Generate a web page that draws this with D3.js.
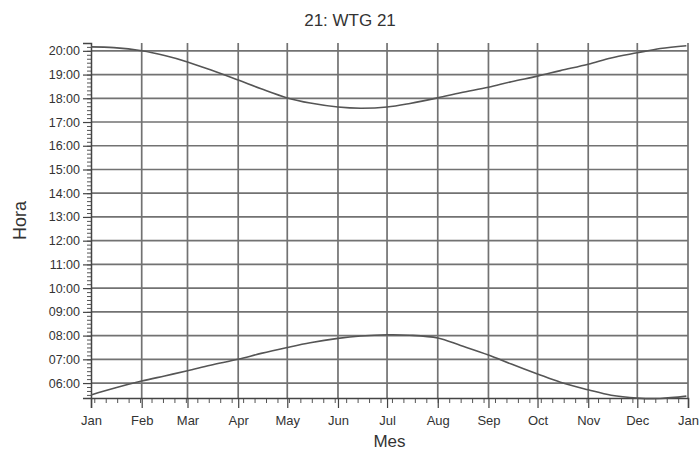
<!DOCTYPE html>
<html>
<head>
<meta charset="utf-8">
<script src="https://cdn.jsdelivr.net/npm/d3@7/dist/d3.min.js"></script>
<style>
  html, body { margin: 0; padding: 0; background: #fff; }
  svg { display: block; font-family: "Liberation Sans", Arial, sans-serif; }
</style>
</head>
<body>
<svg id="chart" width="700" height="452"></svg>
<script>
// ---- data ----
const title = "21: WTG 21";
const xLabel = "Mes";
const yLabel = "Hora";
const dates = ["2021-01-01","2021-01-15","2021-02-01","2021-02-15","2021-03-01","2021-03-15",
  "2021-04-01","2021-04-15","2021-05-01","2021-05-15","2021-06-01","2021-06-15",
  "2021-07-01","2021-07-15","2021-08-01","2021-08-15","2021-09-01","2021-09-15",
  "2021-10-01","2021-10-15","2021-11-01","2021-11-15","2021-12-01","2021-12-15","2021-12-31"];
const sunset = ["20:10","20:08","20:00","19:48","19:32","19:12",
  "18:46","18:24","18:01","17:48","17:38","17:35",
  "17:38","17:47","18:01","18:14","18:28","18:42",
  "18:56","19:10","19:26","19:42","19:55","20:06","20:13"];
const sunrise = ["05:30","05:47","06:05","06:18","06:31","06:45",
  "07:00","07:15","07:30","07:42","07:53","07:59",
  "08:02","08:01","07:54","07:35","07:11","06:48",
  "06:23","06:02","05:43","05:29","05:22","05:21","05:27"];
const yTicks = [6,7,8,9,10,11,12,13,14,15,16,17,18,19,20];
const yDomain = [5.37, 20.33];
const xDomain = ["2021-01-01","2022-01-01"];

(function () {
// ---- helpers ----
const parseDate = d3.timeParse("%Y-%m-%d");
const toHours = s => { const [h, m] = s.split(":").map(Number); return h + m / 60; };
const fmtHour = h => String(h).padStart(2, "0") + ":00";

const svg = d3.select("#chart");
const mLeft = 91, mRight = 688, mTop = 43, mBottom = 398;

const x = d3.scaleTime().domain(xDomain.map(parseDate)).range([mLeft, mRight]);
const y = d3.scaleLinear().domain(yDomain).range([mBottom, mTop]);

const gridColor = "#727272";

// horizontal grid
svg.append("g").selectAll("line").data(yTicks).join("line")
  .attr("x1", mLeft).attr("x2", mRight)
  .attr("y1", d => y(d)).attr("y2", d => y(d))
  .attr("stroke", gridColor).attr("stroke-width", 1.7);

// vertical grid (months)
const months = x.ticks(d3.timeMonth);
svg.append("g").selectAll("line").data(months.slice(1)).join("line")
  .attr("x1", d => x(d)).attr("x2", d => x(d))
  .attr("y1", mTop).attr("y2", mBottom)
  .attr("stroke", gridColor).attr("stroke-width", 1.7);

// minor x ticks (weekly)
const xMinor = d3.axisBottom(x).ticks(d3.timeWeek).tickSize(5).tickFormat("");
svg.append("g").attr("transform", `translate(0,${mBottom})`).call(xMinor)
  .call(g => g.select(".domain").remove())
  .call(g => g.selectAll("line").attr("stroke", "#555"));

// major x axis
const xAxis = d3.axisBottom(x).ticks(d3.timeMonth).tickFormat(d3.timeFormat("%b"))
  .tickSize(10).tickPadding(8);
svg.append("g").attr("transform", `translate(0,${mBottom})`).call(xAxis)
  .call(g => g.select(".domain").attr("stroke", "#444").attr("stroke-width", 1.5))
  .call(g => g.selectAll("line").attr("stroke", "#444").attr("stroke-width", 1.2))
  .call(g => g.selectAll("text").attr("font-size", 13).attr("fill", "#333")
    .attr("font-family", "Liberation Sans, Arial, sans-serif"));

// minor y ticks (10 min)
const yMinorVals = d3.range(Math.ceil(yDomain[0] * 6), Math.floor(yDomain[1] * 6) + 1).map(v => v / 6);
const yMinor = d3.axisLeft(y).tickValues(yMinorVals).tickSize(4).tickFormat("");
svg.append("g").attr("transform", `translate(${mLeft},0)`).call(yMinor)
  .call(g => g.select(".domain").remove())
  .call(g => g.selectAll("line").attr("stroke", "#555"));

// major y axis
const yAxis = d3.axisLeft(y).tickValues(yTicks).tickFormat(fmtHour).tickSize(8).tickPadding(3);
svg.append("g").attr("transform", `translate(${mLeft},0)`).call(yAxis)
  .call(g => g.select(".domain").attr("stroke", "#444").attr("stroke-width", 1.5))
  .call(g => g.selectAll("line").attr("stroke", "#444").attr("stroke-width", 1.2))
  .call(g => g.selectAll("text").attr("font-size", 12.5).attr("fill", "#333")
    .attr("font-family", "Liberation Sans, Arial, sans-serif"));

// curves
const line = d3.line()
  .x((d, i) => x(parseDate(dates[i])))
  .y(d => y(toHours(d)))
  .curve(d3.curveCatmullRom);

[sunset, sunrise].forEach(series => {
  svg.append("path").datum(series)
    .attr("d", line)
    .attr("fill", "none")
    .attr("stroke", "#555")
    .attr("stroke-width", 1.6);
});

// titles
svg.append("text").attr("x", 350).attr("y", 26).attr("text-anchor", "middle")
  .attr("font-size", 17).attr("fill", "#333").text(title);
svg.append("text").attr("x", (mLeft + mRight) / 2).attr("y", 447).attr("text-anchor", "middle")
  .attr("font-size", 17).attr("fill", "#333").text(xLabel);
svg.append("text").attr("transform", `translate(26,${(mTop + mBottom) / 2}) rotate(-90)`)
  .attr("text-anchor", "middle").attr("font-size", 18).attr("fill", "#333").text(yLabel);
})();
</script>
</body>
</html>
